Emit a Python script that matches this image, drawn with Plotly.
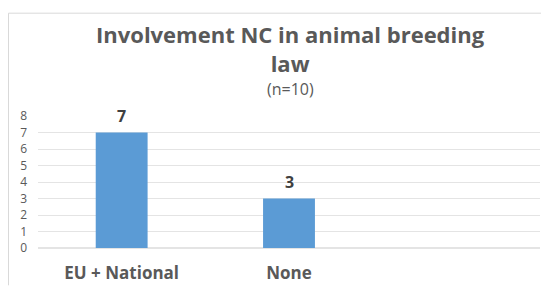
import plotly.graph_objects as go

categories = ["EU + National", "None"]
values = [7, 3]
y_ticks = [0, 1, 2, 3, 4, 5, 6, 7, 8]
title_lines = ["Involvement NC in animal breeding", "law"]
subtitle = "(n=10)"

# page has an 8px body margin; figure coordinates = page coordinates - 8
OFF = 8
W, H = 541, 285
L, R, T, B = 30, 9, 108, 39
pw, ph = W - L - R, H - T - B

def px_x(p):
    return (p - OFF - L) / pw

def px_y(p):
    return (H - B - (p - OFF)) / ph

fig = go.Figure(go.Bar(
    x=categories, y=values,
    marker=dict(color="#5B9BD5", line=dict(width=0)),
    hoverinfo="skip",
))

for c, v in zip(categories, values):
    fig.add_annotation(x=c, y=v, text=f"<b>{v}</b>", showarrow=False,
                       yanchor="bottom", yshift=4,
                       font=dict(family="Open Sans", size=16, color="#404040"))

fig.add_annotation(xref="paper", yref="paper", x=px_x(290), y=px_y(45),
                   text="<b>" + "<br>".join(title_lines) + "</b>", showarrow=False,
                   xanchor="center", yanchor="middle",
                   font=dict(family="Open Sans", size=22, color="#595959"))
fig.add_annotation(xref="paper", yref="paper", x=px_x(290), y=px_y(88),
                   text=subtitle, showarrow=False, xanchor="center", yanchor="middle",
                   font=dict(family="Open Sans", size=16, color="#595959"))

# chart border (left and top edges)
fig.add_shape(type="line", xref="paper", yref="paper",
              x0=px_x(OFF + 0.5), x1=px_x(OFF + 0.5), y0=px_y(H + OFF), y1=px_y(OFF + 0.5),
              line=dict(color="#D9D9D9", width=1))
fig.add_shape(type="line", xref="paper", yref="paper",
              x0=px_x(OFF + 0.5), x1=px_x(W + OFF), y0=px_y(OFF + 0.5), y1=px_y(OFF + 0.5),
              line=dict(color="#D9D9D9", width=1))

fig.update_layout(
    width=W, height=H,
    margin=dict(l=L, r=R, t=T, b=B),
    paper_bgcolor="white", plot_bgcolor="white",
    bargap=0.69, showlegend=False,
    xaxis=dict(range=[-0.5, 2.5], showgrid=False, showline=False, ticks="",
               tickfont=dict(family="Open Sans", size=17, color="#595959", weight="bold"),
               ticklabelstandoff=13),
    yaxis=dict(range=[0, 8], tickvals=y_ticks, showgrid=True, gridcolor="#E4E4E4",
               gridwidth=1, zeroline=True, zerolinecolor="#E4E4E4", showline=False,
               tickfont=dict(family="Open Sans", size=12, color="#595959"),
               ticklabelstandoff=10),
)

fig.write_html("out.html")
